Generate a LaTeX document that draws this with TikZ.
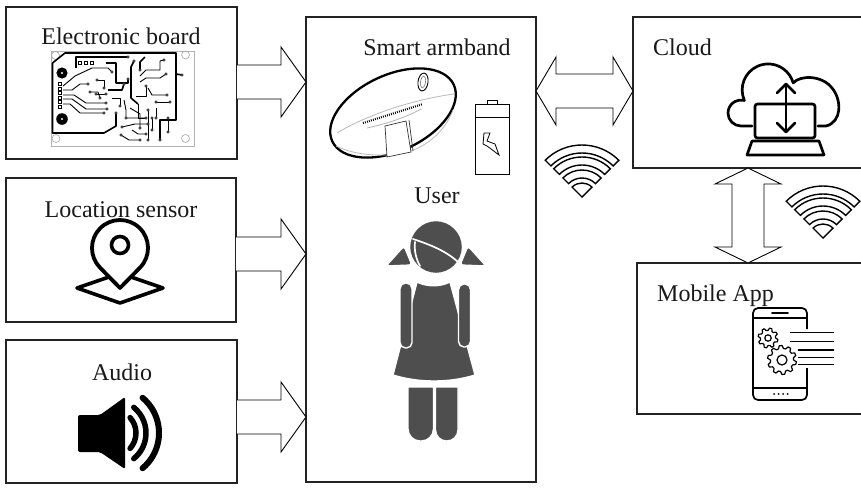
\documentclass[tikz,border=0pt]{standalone}
\usepackage{fontspec}
\setmainfont{Liberation Serif}
\usetikzlibrary{calc}
\definecolor{figgray}{RGB}{78,78,78}
\definecolor{framecol}{RGB}{35,35,35}

% block arrow pointing right, from #1 to the x of #2
\newcommand\rightblock[2]{%
  \draw[blockarr] let \p1=(#1), \p2=(#2) in
    (\x1,\y1+17pt) -- (\x2-25pt,\y1+17pt) -- (\x2-25pt,\y1+35pt) -- (\x2,\y1)
    -- (\x2-25pt,\y1-35pt) -- (\x2-25pt,\y1-17pt) -- (\x1,\y1-17pt);}
% horizontal two-headed block arrow between #1 (left tip) and #2 (right tip)
\newcommand\hdouble[2]{%
  \draw[blockarr] let \p1=(#1), \p2=(#2) in
    (\x1,\y1) -- (\x1+20pt,\y1+34pt) -- (\x1+20pt,\y1+17pt) -- (\x2-20pt,\y1+17pt)
    -- (\x2-20pt,\y1+34pt) -- (\x2,\y1) -- (\x2-20pt,\y1-34pt) -- (\x2-20pt,\y1-17pt)
    -- (\x1+20pt,\y1-17pt) -- (\x1+20pt,\y1-34pt) -- cycle;}
% vertical two-headed block arrow between #1 (top tip) and #2 (bottom tip)
\newcommand\vdouble[2]{%
  \draw[blockarr] let \p1=(#1), \p2=(#2) in
    (\x1,\y1) -- (\x1+33pt,\y1-16pt) -- (\x1+16pt,\y1-16pt) -- (\x1+16pt,\y2+16pt)
    -- (\x1+33pt,\y2+16pt) -- (\x1,\y2) -- (\x1-33pt,\y2+16pt) -- (\x1-16pt,\y2+16pt)
    -- (\x1-16pt,\y1-16pt) -- (\x1-33pt,\y1-16pt) -- cycle;}
% outlined gear: centre #1,#2; tip radius #3; root radius #4; hole radius #5; teeth #6
\newcommand\gearwheel[6]{%
  \pgfmathsetmacro\gstep{360/#6}%
  \pgfmathtruncatemacro\glast{#6-1}%
  \begin{scope}[shift={(#1,#2)}]
    \draw[line width=1.2pt,line join=round,fill=white] (0:#4)
      \foreach \k in {0,...,\glast} {
        -- ({\k*\gstep}:#4) -- ({(\k+0.2)*\gstep}:#3) -- ({(\k+0.5)*\gstep}:#3)
        -- ({(\k+0.7)*\gstep}:#4) } -- cycle;
    \draw[line width=1.2pt] (0,0) circle (#5);
  \end{scope}}

\begin{document}
\begin{tikzpicture}[x=1pt,y=-1pt,
  panel/.style={draw=framecol,line width=1.1pt,inner sep=0pt,outer sep=0pt},
  lbl/.style={font=\fontsize{24}{28}\selectfont,inner sep=0pt,text=black!90},
  blockarr/.style={draw=black,line width=0.9pt,fill=white,line join=miter},
  icon/.style={line width=2.7pt,line cap=round,line join=round},
  trace/.style={line width=1.6pt,line join=round},
  thintrace/.style={line width=0.9pt,line join=round},
  pad/.style={draw=black,fill=white,line width=0.5pt},
  wifiband/.style={draw=black,fill=white,line width=1.4pt,line join=miter},
  wifi/.pic={
    \draw[wifiband] (0,0) -- (-45:14) arc[start angle=-45,end angle=-135,radius=14] -- cycle;
    \foreach \ri/\ro in {19/27,32/40,44/52}
      \draw[wifiband] (-45:\ri) arc[start angle=-45,end angle=-135,radius=\ri]
        -- (-135:\ro) arc[start angle=-135,end angle=-45,radius=\ro] -- cycle;
  }]
\useasboundingbox (0,0) rectangle (861,493);
\fill[white] (0,0) rectangle (861,493);

% ---------- panels ----------
\node[panel,minimum width=231pt,minimum height=152pt] (board) at (121.5,83) {};
\node[panel,minimum width=230pt,minimum height=144pt] (loc) at (121,250) {};
\node[panel,minimum width=231pt,minimum height=143pt] (audio) at (121.5,411.5) {};
\node[panel,minimum width=230pt,minimum height=465pt] (hub) at (421,249.5) {};
\node[panel,minimum width=230pt,minimum height=151pt] (cloudbox) at (748,92.5) {};
\node[panel,minimum width=226pt,minimum height=151pt] (app) at (750,338.5) {};

% ---------- labels ----------
\node[lbl,anchor=base] (boardlbl) at (121,44) {Electronic board};
\node[lbl,anchor=base] (loclbl) at (121,217) {Location sensor};
\node[lbl,anchor=base] (audiolbl) at (122,380) {Audio};
\node[lbl,anchor=base] (bandlbl) at (437,55) {Smart armband};
\node[lbl,anchor=base] (userlbl) at (437,203) {User};
\node[lbl,anchor=base west] (cloudlbl) at (653,55) {Cloud};
\node[lbl,anchor=base west] (applbl) at (657,301) {Mobile App};

% ---------- block arrows ----------
\path (board.east) ++(0,-1) coordinate (a1);
\path (loc.east) ++(0,4) coordinate (a2);
\path (audio.east) ++(0,5.5) coordinate (a3);
\rightblock{a1}{a1 -| hub.west}
\rightblock{a2}{a2 -| hub.west}
\rightblock{a3}{a3 -| hub.west}
\path (cloudbox.west) ++(0,-1.5) coordinate (c1);
\hdouble{c1 -| hub.east}{c1}
\vdouble{cloudbox.south}{cloudbox.south |- app.north}

% ---------- wifi marks ----------
\pic at (582,197) {wifi};
\pic at (823,238) {wifi};

% ---------- circuit board ----------
\draw[gray!60,line width=0.8pt] (51,51) rectangle (194,146);
\foreach \cx/\cy in {55.5/55.5,185.5/55,56/138.5,185.5/138.5}
  \draw[gray!70,line width=0.6pt] (\cx,\cy) circle (4);
\fill (62,73) circle (5.6); \fill[white] (62,73) circle (1.2);
\fill (62,119) circle (5.8); \fill[white] (62,119) circle (1.2);
\draw[trace] (52.5,63) -- (65,53) -- (176,53) -- (176,74) -- (182,75);
\draw[trace] (52.5,63) -- (52.5,133) -- (104,133) -- (116,126) -- (116,113);
\draw[trace] (76,68) -- (76,57) -- (128,57);
\draw[trace] (106,63) -- (116,63) -- (116,83) -- (128,83) -- (128,79);
\draw[trace] (176,74) -- (176,120) -- (160,120) -- (160,140);
\draw[trace] (134,61) -- (131,67) -- (131,98) -- (138,104);
\draw[trace] (145,57) -- (140,62) -- (140,70);
\draw[trace] (108,90) -- (122,90) -- (124,84);
\draw[thintrace] (63,86) -- (75,76) -- (92,68) -- (108,68) -- (112,72);
\draw[thintrace] (63,90) -- (72,90) -- (80,84) -- (88,84);
\draw[thintrace] (63,95) -- (74,95) -- (86,103) -- (106,103);
\draw[thintrace] (63,99) -- (72,99) -- (86,109) -- (107,109);
\draw[thintrace] (63,104) -- (70,104) -- (80,113) -- (104,113);
\draw[thintrace] (97,80) -- (104,80) -- (104,88);
\draw[thintrace] (96,94) -- (106,94);
\draw[thintrace] (90,92) -- (98,92) -- (100,98);
\draw[thintrace] (112,98) -- (120,98) -- (120,106);
\draw[thintrace] (138,104) -- (138,118) -- (146,118);
\draw[thintrace] (140,76) -- (146,70) -- (160,70) -- (160,61) -- (164,60);
\draw[thintrace] (140,82) -- (146,78) -- (160,78) -- (166,74);
\draw[thintrace] (148,88) -- (152,95) -- (167,95);
\draw[thintrace] (136,96) -- (146,96) -- (146,86);
\draw[thintrace] (124,100) -- (126,110) -- (126,118) -- (146,118);
\draw[thintrace] (130,108) -- (140,114) -- (140,128);
\draw[thintrace] (122,127) -- (135,124) -- (148,124);
\draw[thintrace] (121,135) -- (129,140) -- (140,140);
\draw[thintrace] (132,130) -- (138,134) -- (146,134);
\draw[thintrace] (148,110) -- (148,140);
\draw[thintrace] (152,118) -- (152,130);
\draw[thintrace] (156,102) -- (170,102);
\draw[thintrace] (156,108) -- (156,118);
\draw[thintrace] (168,118) -- (168,132);
\foreach \px/\py in {60/84,60/88.5,60/93,60/97.5,60/102,60/106.5,80/63,86/63,92/63}
  \draw[pad] (\px-1.5,\py-1.5) rectangle (\px+1.5,\py+1.5);
\foreach \px/\py in {112/72,88/84,106/103,107/109,104/113,97/80,104/88,96/94,106/94,
  146/118,164/60,166/74,167/95,146/86,126/118,140/128,148/124,122/127,121/135,
  140/140,148/110,148/140,152/118,152/130,168/118,168/132,116/113,128/57,128/79,
  160/140,182/75,134/61,140/70,124/84,90/92,100/98,120/106,156/102,170/102,156/118,146/134}
  \draw[pad] (\px,\py) circle (1.3);

% ---------- location pin ----------
\draw[line width=3.6pt,line join=round,fill=white] (109,277) -- (77,288) -- (120,303) -- (163,288) -- (131,277);
\draw[line width=3.8pt,line join=round,fill=white] (120,288) -- ($(120,248)+(44.4:28)$)
  arc[start angle=44.4,end angle=-224.4,radius=28] -- cycle;
\draw[line width=3.6pt] (120,245) circle (8.5);

% ---------- speaker ----------
\fill[rounded corners=2pt] (78,415) -- (100,415) -- (125,397) -- (125,469) -- (100,452) -- (78,452) -- cycle;
\draw[line width=5.5pt,line cap=round] ($(113,433)+(-42:23)$) arc[start angle=-42,end angle=42,radius=23];
\draw[line width=5.5pt,line cap=round] ($(113,433)+(-51:33)$) arc[start angle=-51,end angle=51,radius=33];
\draw[line width=6pt,line cap=round] ($(113,433)+(-50:46)$) arc[start angle=-50,end angle=50,radius=46];

% ---------- armband ----------
\draw[line width=2.3pt,rotate around={25:(393,113)}] (393,113) ellipse [x radius=67,y radius=38];
\draw[gray!55,line width=0.8pt] (337,133) .. controls (365,116) and (410,100) .. (454,94);
\draw[gray!55,line width=0.8pt] (336,146) .. controls (360,158) and (400,158) .. (420,147)
  .. controls (435,139) and (447,126) .. (453,110);
\draw[gray!60,line width=0.8pt] (367,128) .. controls (385,124) and (405,118) .. (421,109);
\draw[line width=2.2pt,dash pattern=on 0.8pt off 1.3pt] (363,123) -- (423,104);
\draw[gray!40!black,line width=0.7pt,fill=white] (385,126) -- (387,157) -- (411,152) -- (406,121) -- cycle;
\draw[gray!40!black,line width=0.7pt] (409,120) -- (413,151);
\draw[line width=0.9pt,rotate around={-8:(423,82)}] (423,82) ellipse [x radius=5,y radius=9];
\draw[line width=0.6pt,gray,rotate around={-8:(423,82)}] (423,82) ellipse [x radius=2.5,y radius=6];

% ---------- battery ----------
\draw[line width=0.9pt] (475,104) rectangle (509,174);
\draw[line width=0.9pt] (487,100) rectangle (497,104);
\draw[line width=0.9pt] (475,117) -- (509,117);
\begin{scope}[shift={(483,133)}]
  \draw[line width=0.8pt,line join=miter] (1,0) -- (7,0) -- (4,8) -- (12,11) -- (16,22)
    -- (4,13) -- (0,11) -- cycle;
\end{scope}

% ---------- user figure ----------
\begin{scope}[fill=figgray,draw=white,line width=1.4pt]
  \filldraw[rounded corners=3pt] (386,266) -- (404,246) -- (412,265) -- cycle;
  \filldraw[rounded corners=3pt] (486,266) -- (468,246) -- (460,265) -- cycle;
  \filldraw (436,247) circle (26.5);
  \filldraw (417,282) .. controls (427,287) and (440,287) .. (450,282) -- (475,375)
    .. controls (450,383) and (418,383) .. (393,375) -- cycle;
  \filldraw[rounded corners=5.5pt] (400,283) rectangle (412,348);
  \filldraw[rounded corners=5.5pt] (458.5,284) rectangle (470.5,347);
  \filldraw (408,387) -- (433.5,387) {[rounded corners=12pt] -- (433.5,441) -- (408,441)} -- cycle;
  \filldraw (435.5,387) -- (458,387) {[rounded corners=11pt] -- (458,441) -- (435.5,441)} -- cycle;
\end{scope}
\draw[white,line width=1.7pt,line cap=round] (413,239) .. controls (425,243) and (446,250) .. (459,263);
\draw[white,line width=1.7pt,line cap=round] (415,242) .. controls (414,250) and (416,259) .. (420,266);

% ---------- cloud with laptop ----------
\draw[icon] (752,126) -- (741,126) arc[start angle=90,end angle=285,radius=13]
  arc[start angle=-203.8,end angle=-15.6,radius=26]
  .. controls (800,75) and (822,75) .. (832,88) .. controls (842,100) and (842,122) .. (826,126) -- (818,126);
\draw[icon,fill=white,rounded corners=2.5pt] (755,104) rectangle (815,138);
\draw[icon,fill=white] (752,141) -- (819,141) -- (824,155) -- (747,155) -- cycle;
\draw[icon] (786,84) -- (786,132);
\draw[icon] (777,93) -- (786,84) -- (795,93);
\draw[icon] (777,123) -- (786,132) -- (795,123);

% ---------- phone with gears ----------
\draw[line width=1.7pt,rounded corners=5pt] (807,329) -- (807,308) -- (753,308) -- (753,400) -- (807,400) -- (807,368);
\draw[line width=1.3pt] (753,318) -- (807,318);
\draw[line width=1.3pt] (753,388) -- (807,388);
\draw[line width=1.7pt,line cap=round] (772,313) -- (788,313);
\foreach \dx in {774,778.5,783,787.5} \fill (\dx,394) circle (1);
\gearwheel{768}{338}{10}{7.6}{3.2}{8}
\gearwheel{782}{360}{14.5}{11.6}{5}{10}
\foreach \ly/\lx in {332.3/790,341.7/790,350/798,357.3/798,364.7/798}
  \draw[line width=1.4pt] (\lx,\ly) -- (834,\ly);
\end{tikzpicture}
\end{document}
